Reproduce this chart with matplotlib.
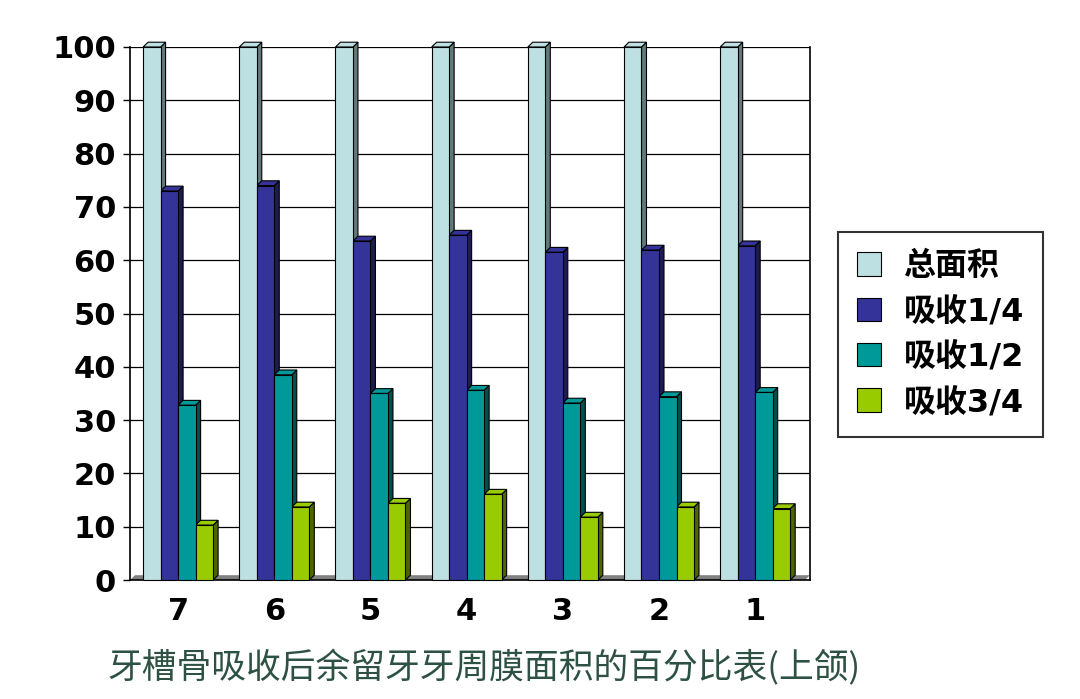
import numpy as np
import matplotlib
matplotlib.use("Agg")
import matplotlib.pyplot as plt
from matplotlib.patches import Polygon

# data
teeth = ["7", "6", "5", "4", "3", "2", "1"]
series_names = ["总面积", "吸收1/4", "吸收1/2", "吸收3/4"]
total_area = [100, 100, 100, 100, 100, 100, 100]
absorb_quarter = [73.0, 74.0, 63.6, 64.7, 61.5, 61.9, 62.7]
absorb_half = [32.8, 38.5, 35.0, 35.6, 33.2, 34.4, 35.2]
absorb_three_quarter = [10.3, 13.7, 14.4, 16.1, 11.8, 13.7, 13.4]
yticks = [0, 10, 20, 30, 40, 50, 60, 70, 80, 90, 100]
caption = "牙槽骨吸收后余留牙牙周膜面积的百分比表(上颌)"

face_colors = ["#bde0e2", "#333399", "#009999", "#99cc00"]
side_colors = ["#5e7b7c", "#1c1c50", "#004f4f", "#4d6600"]

plt.rcParams['font.family'] = ['DejaVu Sans', 'Noto Sans CJK SC']

fig = plt.figure(figsize=(10.8, 6.99), dpi=100)
ax = fig.add_axes([130 / 1080, 1 - 580 / 699, 680 / 1080, 533 / 699])

values = [total_area, absorb_quarter, absorb_half, absorb_three_quarter]
x = np.arange(len(teeth))
width = 0.182
dx, dy = 0.052, 0.9   # fake depth of the 3d bars

# floor strip
ax.add_patch(Polygon([(-0.5, 0), (-0.5 + dx, dy), (6.57, dy), (6.57 - dx, 0)],
                     closed=True, facecolor="#808080", edgecolor="none",
                     zorder=1, clip_on=False))

for gi in range(len(teeth)):
    for si, vals in enumerate(values):
        h = vals[gi]
        x0 = x[gi] - 2 * width + si * width
        x1 = x0 + width
        side = Polygon([(x1, 0), (x1, h), (x1 + dx, h + dy), (x1 + dx, dy)],
                       closed=True, facecolor=side_colors[si], edgecolor="black",
                       linewidth=0.8, zorder=3, clip_on=False)
        top = Polygon([(x0, h), (x0 + dx, h + dy), (x1 + dx, h + dy), (x1, h)],
                      closed=True, facecolor=face_colors[si], edgecolor="black",
                      linewidth=0.8, zorder=3, clip_on=False)
        ax.add_patch(side)
        ax.add_patch(top)
        ax.bar(x0, h, width=width, align="edge", color=face_colors[si],
               edgecolor="black", linewidth=0.8, zorder=4, clip_on=False,
               label=series_names[si] if gi == 0 else None)

ax.set_xlim(-0.5, 6.57)
ax.set_ylim(0, 100)
ax.set_yticks(yticks)
ax.set_xticks(x)
ax.set_xticklabels(teeth)
ax.yaxis.grid(True, color="black", linewidth=0.9, zorder=0)
ax.set_axisbelow(True)
for lab in ax.get_yticklabels() + ax.get_xticklabels():
    lab.set_fontsize(22)
    lab.set_fontweight("bold")
ax.tick_params(axis="y", length=5, width=1, pad=5)
ax.tick_params(axis="x", length=0, pad=12)
ax.spines["top"].set_visible(False)
for s in ["left", "bottom", "right"]:
    ax.spines[s].set_linewidth(1.2)

leg = fig.legend(loc="upper left", bbox_to_anchor=(838 / 1080, 1 - 232 / 699),
                 fontsize=23, frameon=True, fancybox=False, edgecolor="black",
                 handlelength=0.75, handleheight=0.75, labelspacing=0.45,
                 borderpad=0.6, handletextpad=0.7, borderaxespad=0)
leg.get_frame().set_linewidth(1.5)
for t in leg.get_texts():
    t.set_fontweight("bold")

fig.text(107 / 1080, 1 - 668 / 699, caption, fontsize=25, color="#2d5142",
         family=["Noto Sans CJK SC"], va="center", ha="left")

fig.savefig("out.png", dpi=100, facecolor="white")
